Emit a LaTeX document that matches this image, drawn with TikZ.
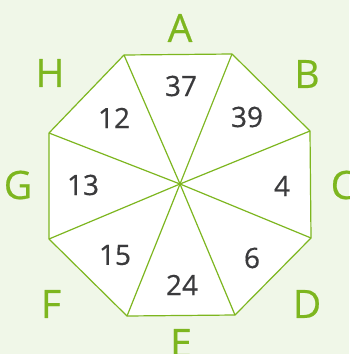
\documentclass[tikz,border=0pt]{standalone}
\usepackage{fontspec}
\setmainfont[FakeBold=0.5]{Open Sans}
\definecolor{leaf}{HTML}{7DB61F}
\definecolor{paper}{HTML}{F0F7E8}
\definecolor{ink}{HTML}{3A3A3C}
\begin{document}
\begin{tikzpicture}[x=1pt, y=-1pt, line width=1.2pt, line join=round,
    letter/.style = {text=leaf, inner sep=0pt, font=\fontsize{39}{39}\selectfont},
    num/.style = {text=ink, inner sep=0pt, font=\fontsize{28}{28}\selectfont}]
    \fill[paper] (0,0) rectangle (349,354);
    \useasboundingbox (0,0) rectangle (349,354);
    % corners of the octagon
    \coordinate (o) at (180,184);
    \coordinate (1) at (124,55);
    \coordinate (2) at (232,54);
    \coordinate (3) at (310,131);
    \coordinate (4) at (311,238);
    \coordinate (5) at (235,315);
    \coordinate (6) at (127,316);
    \coordinate (7) at (49,239);
    \coordinate (8) at (49,133);
    \draw[leaf, fill=white] (1) -- (2) -- (3) -- (4) -- (5) -- (6) -- (7) -- (8) -- cycle;
    \foreach \v in {1,...,8}
        \draw[leaf] (o) -- (\v);
    % numbers
    \node[num] (n37) at (181,86) {37};
    \node[num] (n39) at (247,117) {39};
    \node[num] (n4) at (282,186) {4};
    \node[num] (n6) at (252,258) {6};
    \node[num] (n24) at (182,285) {24};
    \node[num] (n15) at (115,255) {15};
    \node[num] (n13) at (83,185) {13};
    \node[num] (n12) at (114,118) {12};
    % letters
    \node[letter] (A) at (180,28) {A};
    \node[letter] (B) at (307,74) {B};
    \node[letter] (C) at (343,185) {C};
    \node[letter] (D) at (307,304) {D};
    \node[letter] (E) at (181,343) {E};
    \node[letter] (F) at (51,304) {F};
    \node[letter] (G) at (18,185) {G};
    \node[letter] (H) at (50,73) {H};
\end{tikzpicture}
\end{document}
